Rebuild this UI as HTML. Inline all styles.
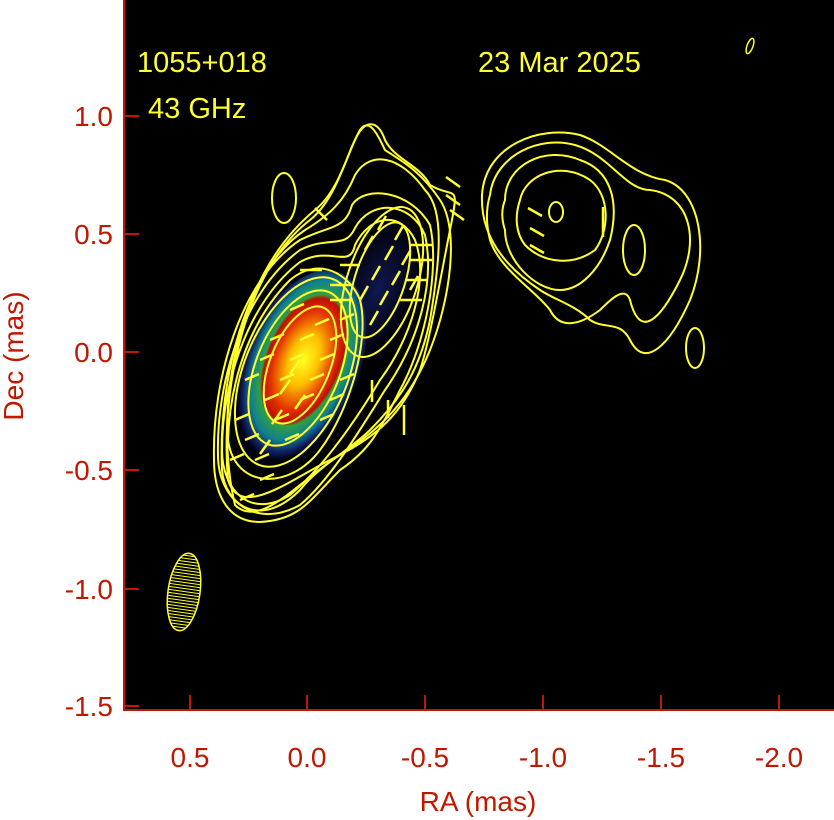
<!DOCTYPE html>
<html><head><style>body{margin:0;background:#fff}svg{display:block}</style></head><body>
<svg width="834" height="820" viewBox="0 0 834 820" xmlns="http://www.w3.org/2000/svg" font-family="Liberation Sans, sans-serif">
<defs>
<radialGradient id="core" cx="0.5" cy="0.45" r="0.5">
<stop offset="0" stop-color="#ffff20"/>
<stop offset="0.25" stop-color="#ffc000"/>
<stop offset="0.5" stop-color="#e03000"/>
<stop offset="0.62" stop-color="#c01000"/>
<stop offset="0.66" stop-color="#30a040"/>
<stop offset="0.8" stop-color="#108090"/>
<stop offset="0.92" stop-color="#102060"/>
<stop offset="1" stop-color="#000010"/>
</radialGradient>
<radialGradient id="blob" cx="0.5" cy="0.5" r="0.5">
<stop offset="0" stop-color="#101850"/>
<stop offset="1" stop-color="#000005"/>
</radialGradient>
<pattern id="hatch" width="4" height="3" patternUnits="userSpaceOnUse"><rect width="4" height="1" fill="#ffff30"/></pattern>
</defs>
<rect x="124" y="0" width="710" height="710" fill="#000"/>
<ellipse cx="378" cy="290" rx="38" ry="75" transform="rotate(20 378 290)" fill="url(#blob)"/>
<ellipse cx="300" cy="370" rx="58" ry="105" transform="rotate(22 300 370)" fill="url(#core)"/>
<g fill="none" stroke="#ffff30" stroke-width="2">
<ellipse cx="300" cy="365" rx="30" ry="62" transform="rotate(22 300 365)"/>
<ellipse cx="298" cy="368" rx="42" ry="82" transform="rotate(22 298 368)"/>
<ellipse cx="296" cy="372" rx="52" ry="100" transform="rotate(22 296 372)"/>
<path d="M228,440 C230,380 250,320 290,280 C320,255 350,275 360,300 C370,340 350,410 320,450 C290,490 235,490 228,440Z"/>
<path d="M222,450 C222,380 250,300 300,262 C330,245 350,270 355,245 C370,215 400,210 415,240 C430,280 410,340 380,380 C350,430 320,470 290,495 C250,520 222,490 222,450Z"/>
<path d="M218,455 C216,380 245,290 300,250 C330,235 345,250 355,228 C370,200 410,200 425,235 C435,280 420,340 385,390 C360,430 330,480 300,505 C255,530 218,500 218,455Z"/>
<path d="M214,460 C212,380 240,280 300,240 C330,225 345,230 352,205 C365,185 410,190 430,225 C440,270 425,345 400,390 C380,430 370,450 340,470 C310,500 300,520 260,522 C225,522 214,490 214,460Z"/>
<path d="M222,470 C218,380 245,270 305,230 C330,215 345,200 355,175 C370,150 400,155 425,190 C445,210 440,260 430,320 C420,370 400,400 370,430 C350,450 320,465 300,490 C260,530 225,505 222,470Z"/>
<path d="M228,480 C220,390 245,270 310,220 C335,200 345,160 355,140 C365,118 378,120 385,140 C395,160 420,165 430,185 C455,200 460,180 450,230 C440,280 430,340 420,370 C400,420 370,440 330,460 C290,480 240,520 228,480Z"/>
<path d="M235,505 C215,420 230,280 315,210 C340,190 348,150 360,130 C370,115 380,140 385,150 C400,160 420,170 440,200 C460,230 450,300 430,350 C410,400 380,430 340,455 C300,480 260,530 235,505Z"/>
<ellipse cx="380" cy="280" rx="25" ry="60" transform="rotate(18 380 280)"/>
<ellipse cx="382" cy="282" rx="35" ry="78" transform="rotate(18 382 282)"/>
<ellipse cx="284" cy="198" rx="12" ry="25"/>
<ellipse cx="556" cy="212" rx="7" ry="10"/>
<path d="M520,200 C525,175 560,160 590,180 C610,195 610,230 595,250 C575,265 545,265 525,245 C515,232 515,215 520,200Z"/>
<path d="M505,200 C505,165 545,145 580,160 C610,170 620,200 610,240 C600,270 580,290 560,290 C535,290 505,260 505,230 C500,215 503,205 505,200Z"/>
<path d="M490,195 C495,155 540,135 575,145 C610,155 625,190 650,190 C690,195 700,240 680,280 C660,320 640,340 630,300 C625,285 610,300 600,310 C580,325 560,330 550,310 C535,290 500,270 490,240 C485,220 487,205 490,195Z"/>
<path d="M482,195 C485,145 540,125 580,135 C610,145 630,175 665,180 C700,190 710,250 690,300 C670,345 645,370 630,340 C620,320 605,330 590,320 C575,305 555,300 540,290 C510,270 480,240 482,195Z"/>
<ellipse cx="634" cy="250" rx="11" ry="25"/>
<ellipse cx="695" cy="348" rx="9" ry="20"/>
<ellipse cx="750" cy="46" rx="3" ry="8" transform="rotate(20 750 46)" stroke-width="1.5"/>
</g>
<g stroke="#ffff30" stroke-width="2.5">
<path d="M235,420l14,-6M245,440l14,-6M255,460l14,-6M265,400l14,-6M280,380l14,-6M290,360l14,-6M300,340l14,-6M315,325l14,-6M275,420l14,-6M285,440l14,-6M260,480l14,-6M300,400l14,-6M310,380l14,-6M320,360l14,-6M330,340l14,-6M340,320l14,-6M330,400l14,-6M245,380l14,-6M260,360l14,-6M270,340l14,-6M290,310l14,-6M230,460l14,-6M240,500l14,-6M320,420l14,-6M340,380l14,-6"/>
<path d="M290,380l-10,14M300,360l-10,14M305,395l-10,14M282,410l-10,14M270,440l-10,14"/>
<path d="M360,300l8,-14M372,280l8,-14M385,260l8,-14M395,240l8,-14M370,325l8,-14M380,305l8,-14M392,285l8,-14M402,265l8,-14M365,250l8,-14M378,230l8,-14M410,290l8,-14"/>
<path d="M330,300h22M330,285h22M400,300h22M405,280h22M410,260h22M410,245h22M300,270h22M340,265h20"/>
<path d="M315,208l12,12M446,177l14,10M446,195l14,10M450,210l14,10M528,208l14,8M530,228l14,8M530,245l14,8M372,380v22M388,400v18M404,405v30M603,207v30"/>
</g>
<ellipse cx="184" cy="592" rx="16" ry="39" transform="rotate(8 184 592)" fill="url(#hatch)" stroke="#ffff30" stroke-width="1.5"/>
<g stroke="#c01800" stroke-width="2" fill="none">
<path d="M124,0V710H834"/>
<path d="M190,710v-15M307,710v-15M425,710v-15M543,710v-15M661,710v-15M779,710v-15"/>
<path d="M124,116h15M124,234h15M124,352h15M124,470h15M124,589h15M124,706h15"/>
</g>
<g fill="#c01800" font-size="28" text-anchor="middle">
<text x="190" y="767">0.5</text><text x="307" y="767">0.0</text><text x="425" y="767">-0.5</text><text x="543" y="767">-1.0</text><text x="661" y="767">-1.5</text><text x="779" y="767">-2.0</text>
<text x="478" y="811">RA (mas)</text>
</g>
<g fill="#c01800" font-size="28" text-anchor="end">
<text x="113" y="126">1.0</text><text x="113" y="244">0.5</text><text x="113" y="362">0.0</text><text x="113" y="480">-0.5</text><text x="113" y="599">-1.0</text><text x="113" y="716">-1.5</text>
</g>
<text x="0" y="0" transform="translate(23,356) rotate(-90)" fill="#c01800" font-size="28" text-anchor="middle">Dec (mas)</text>
<g fill="#ffff30" font-size="29">
<text x="137" y="72">1055+018</text><text x="148" y="118">43 GHz</text><text x="478" y="72">23 Mar 2025</text>
</g>
</svg>
</body></html>
